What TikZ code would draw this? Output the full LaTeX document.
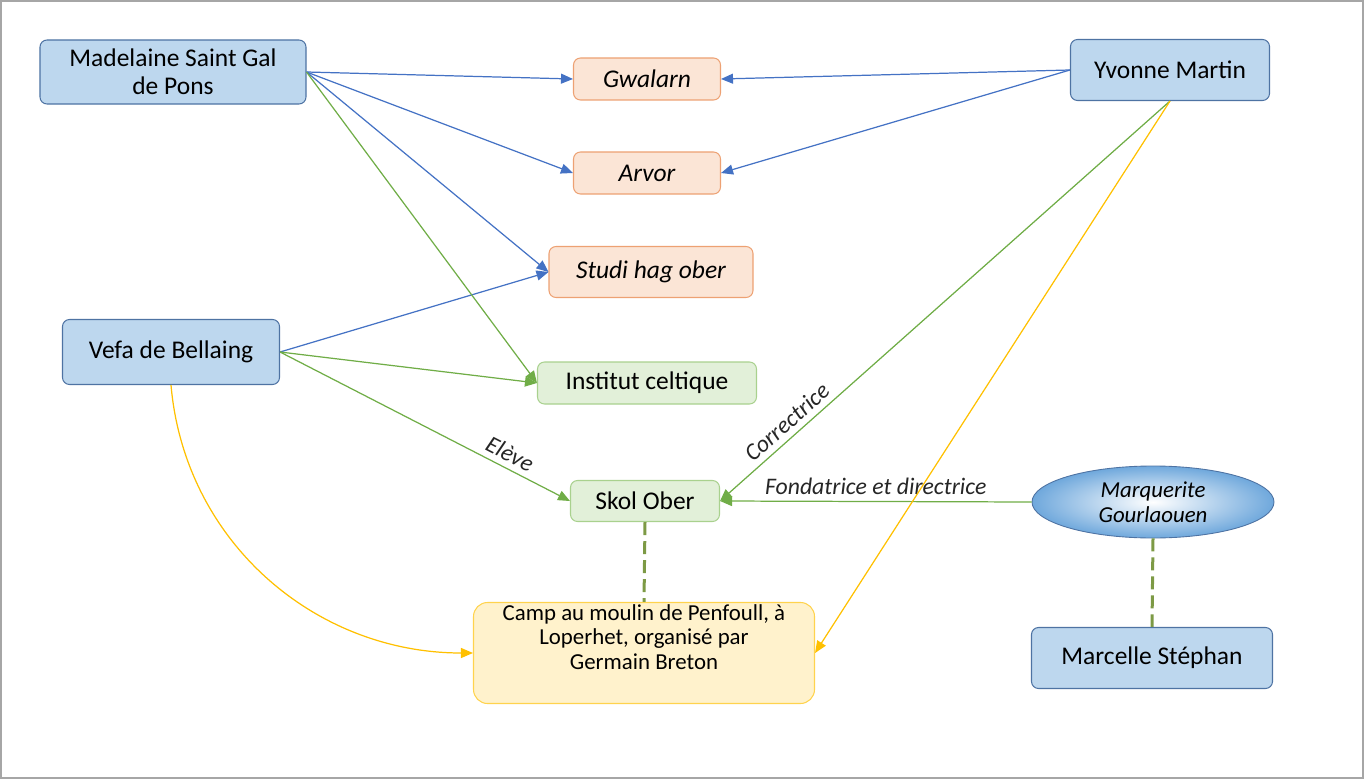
\documentclass[tikz,border=0pt]{standalone}
\usepackage{fontspec}
\setmainfont{Carlito}
\usepackage{xcolor}
\definecolor{bfill}{HTML}{BDD7EE}
\definecolor{bdraw}{HTML}{4E73A3}
\definecolor{bline}{HTML}{4472C4}
\definecolor{cfill}{HTML}{6FA8DC}
\definecolor{ofill}{HTML}{FBE5D6}
\definecolor{odraw}{HTML}{EDA173}
\definecolor{gfill}{HTML}{E2F0D9}
\definecolor{gdraw}{HTML}{A9D18E}
\definecolor{gline}{HTML}{70AD47}
\definecolor{yfill}{HTML}{FFF2CC}
\definecolor{ydraw}{HTML}{FFD34D}
\definecolor{yline}{HTML}{FFC000}
\definecolor{olive}{HTML}{7D9A45}
\usetikzlibrary{arrows.meta,positioning,shapes.geometric}

\begin{document}
\begin{tikzpicture}[
  x=0.2mm, y=-0.2mm, >={Triangle[length=2.4mm,width=2mm]},
  person/.style={rectangle, rounded corners=4pt, draw=bdraw, fill=bfill, line width=0.6pt,
    font=\fontsize{14.5}{16}\selectfont, align=center, inner sep=2pt},
  revue/.style={rectangle, rounded corners=4pt, draw=odraw, fill=ofill, line width=0.6pt,
    font=\fontsize{14.5}{16}\selectfont\itshape, inner sep=2pt},
  ecole/.style={rectangle, rounded corners=4pt, draw=gdraw, fill=gfill, line width=0.6pt,
    font=\fontsize{14.5}{16}\selectfont, inner sep=2pt},
  camp/.style={rectangle, rounded corners=8pt, draw=ydraw, fill=yfill, line width=0.6pt,
    font=\fontsize{13}{13.7}\selectfont, align=center, inner sep=0.5mm, text depth=6.4mm},
  chef/.style={ellipse, draw=bdraw, inner color=white, outer color=cfill, line width=0.5pt,
    font=\fontsize{13}{14.5}\selectfont\itshape, align=center, inner sep=0pt},
  lien/.style={->, line width=0.7pt},
  rel/.style={text=black!85, font=\fontsize{13.5}{15}\selectfont\itshape},
  pont/.style={draw=olive, line width=0.6mm, dash pattern=on 2.6mm off 1.2mm},
]
  % cadre
  \useasboundingbox (0,0) rectangle (1370,782);
  \draw[gray!70, line width=0.5mm] (1,1) rectangle (1363,778);

  % personnes
  \node[person, minimum width=53.2mm, minimum height=12.8mm] (mad) at (173,72) {Madelaine Saint Gal\\de Pons};
  \node[person, minimum width=39.8mm, minimum height=12.2mm] (yvo) at (1170,70) {Yvonne Martin};
  \node[person, minimum width=43.4mm, minimum height=13mm] (vefa) at (171,352) {Vefa de Bellaing};
  \node[person, minimum width=48.2mm, minimum height=12.2mm] (marc) at (1152,658) {Marcelle Stéphan};
  \node[chef, minimum width=48.4mm, minimum height=14.4mm] (marq) at (1153,502) {Marquerite\\Gourlaouen};

  % revues et ecoles
  \node[revue, minimum width=29.4mm, minimum height=8.4mm] (gwa) at (647,79) {Gwalarn};
  \node[revue, minimum width=29.4mm, minimum height=8.4mm] (arv) at (647,173) {Arvor};
  \node[revue, minimum width=40.8mm, minimum height=10.2mm] (studi) at (651,272) {Studi hag ober};
  \node[ecole, minimum width=43.8mm, minimum height=8.4mm] (inst) at (647,383) {Institut celtique};
  \node[ecole, minimum width=29.8mm, minimum height=8.2mm] (skol) at (645,501) {Skol Ober};
  \node[camp, minimum width=68.2mm] (camp) at (644,653) {Camp au moulin de Penfoull, à\\Loperhet, organisé par\\Germain Breton};

  % liens
  \draw[lien, bline] (mad.east) -- (gwa.west);
  \draw[lien, bline] (mad.east) -- (arv.west);
  \draw[lien, bline] (mad.east) -- (studi.west);
  \draw[lien, bline] (yvo.west) -- (gwa.east);
  \draw[lien, bline] (yvo.west) -- (arv.east);
  \draw[lien, bline] (vefa.east) -- (studi.west);
  \draw[lien, gline] (mad.east) -- (inst.west);
  \draw[lien, gline] (vefa.east) -- (inst.west);
  \draw[lien, gline] (vefa.east) -- (skol.west) node[pos=0.77, sloped, above, rel]{Elève};
  \draw[lien, gline, <-] (skol.east) -- (yvo.south) node[pos=0.17, sloped, above, rel]{Correctrice};
  \draw[lien, gline] (marq.west) -- (skol.east) node[midway, above, rel]{Fondatrice et directrice};
  \draw[lien, yline] (yvo.south) -- (camp.east);
  \draw[lien, yline] (vefa.south) to[out=-85, in=180] (camp.west);
  \draw[pont] (skol.south) -- (camp.north);
  \draw[pont] (marq.south) -- (marc.north);
\end{tikzpicture}
\end{document}
